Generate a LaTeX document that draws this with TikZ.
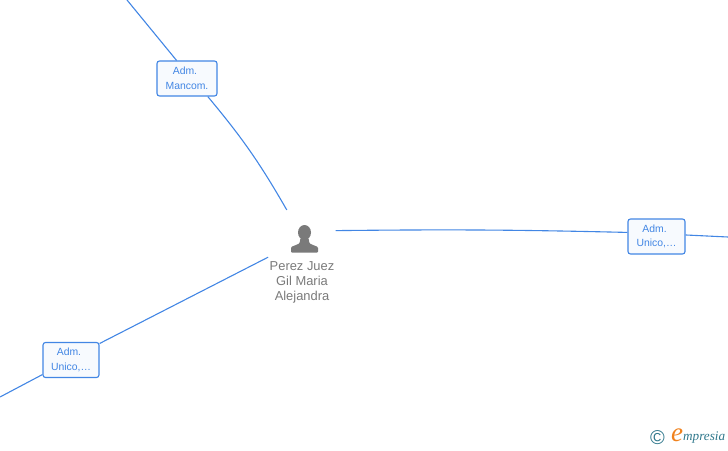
\documentclass[tikz,border=0pt]{standalone}
\usepackage{fontspec}
\setmainfont{Liberation Sans}
\newfontfamily\logofont{Liberation Serif}
\usepackage{xcolor}
\definecolor{linkblue}{RGB}{66,134,228}
\definecolor{boxfill}{RGB}{247,250,254}
\definecolor{persongray}{RGB}{122,122,122}
\definecolor{logoteal}{RGB}{48,120,140}
\definecolor{logoorange}{RGB}{240,130,30}
\usetikzlibrary{positioning}
\tikzset{
  admbox/.style={draw=linkblue, rounded corners=2.5pt, fill=boxfill, line width=1.1pt,
    minimum height=35pt, inner sep=0pt, align=center, text=linkblue,
    font=\fontsize{10.4}{15}\selectfont},
  link/.style={draw=linkblue, line width=1.1pt},
  personlabel/.style={align=center, inner sep=0pt, text=persongray,
    font=\fontsize{12.9}{15}\selectfont},
}
\newcommand{\admline}{Adm.\hspace*{4pt}}
\begin{document}
\begin{tikzpicture}[x=1pt,y=-1pt]
  \useasboundingbox (0,0) rectangle (728,450);

  % The person in the middle
  \node[circle, minimum size=72pt, inner sep=0pt] (person) at (301.5,243) {};
  \fill[persongray] (304.5,232.5) circle [x radius=6.5, y radius=7.5];
  \fill[persongray, rounded corners=1pt] (291,252.5) -- (291,247) -- (299.5,243.5) -- (300.5,238)
    -- (308.5,238) -- (309.5,243.5) -- (318,247) -- (318,252.5) -- cycle;
  \node[personlabel] (name) at (302,282) {Perez Juez\\Gil Maria\\Alejandra};

  % Role boxes
  \node[admbox, minimum width=60pt] (mancom) at (187,78.5) {\raisebox{-0.5pt}{\admline}\\Mancom.};
  \node[admbox, minimum width=57pt] (unicoright) at (656.5,236.5) {\raisebox{-0.5pt}{\admline}\\Unico,\dots};
  \node[admbox, minimum width=56pt] (unicoleft) at (71,360) {\raisebox{-0.5pt}{\admline}\\Unico,\dots};

  % Free ends at the edge of the picture
  \coordinate (topend) at (127,0);
  \coordinate (rightend) at (728,237);
  \coordinate (leftend) at (0,397);

  % Connectors
  \draw[link] (topend) -- (mancom.120);
  \draw[link] (mancom.-41) to[bend left=5] (person.114);
  \draw[link] (person.20) to[bend left=1] (unicoright.172);
  \draw[link] (unicoright.3) -- (rightend);
  \draw[link] (person.203) -- (unicoleft.30);
  \draw[link] (unicoleft.207) -- (leftend);

  % Logo
  \node[inner sep=0pt, text=logoteal, font=\fontsize{20}{20}\selectfont] (copyr) at (657.5,438) {\textcopyright};
  \node[inner sep=0pt, text=logoorange, font=\logofont\itshape\fontsize{27}{27}\selectfont] (logoe) at (677,435) {e};
  \node[inner sep=0pt, text=logoteal, anchor=west, font=\logofont\itshape\fontsize{13.2}{13.2}\selectfont] (logotext) at (683,437.5) {mpresia};
\end{tikzpicture}
\end{document}
